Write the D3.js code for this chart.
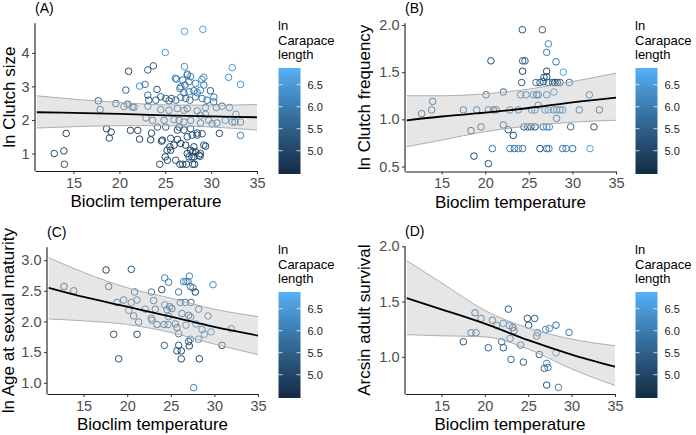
<!DOCTYPE html>
<html>
<head>
<meta charset="utf-8">
<script src="https://cdn.jsdelivr.net/npm/d3@7"></script>
<style>
  body { margin: 0; background: #fff; }
  text { font-family: "Liberation Sans", Arial, sans-serif; }
</style>
</head>
<body>
<svg id="chart" width="696" height="435"></svg>
<script>
// ---- data ----
const xTicks = [15, 20, 25, 30, 35];
const colorTicks = [5.0, 5.5, 6.0, 6.5];
const colorDomain = [4.47, 6.88];   // ln carapace length range of the colour bar
const fitX = [11, 15, 20, 25, 30, 35];

// (A) ln clutch size: [temperature, value, ln carapace]
const clutchSizePts = [
  [12.9,1.00,5.2],[13.95,1.08,5.1],[14.0,0.68,5.3],[14.2,1.60,5.0],
  [17.7,2.57,5.3],[17.9,2.31,5.6],[18.6,1.74,5.1],[18.9,1.46,5.2],[19.1,1.64,5.0],[19.6,2.49,5.5],
  [20.7,2.89,5.6],[21.0,3.45,5.2],[20.9,2.47,5.4],[21.2,1.69,5.1],[21.4,2.39,5.7],[20.5,2.40,5.8],[21.6,2.38,5.5],
  [22.2,3.01,6.2],[22.0,1.69,5.0],[22.2,1.43,5.1],[22.8,3.06,5.9],[23.1,3.49,5.5],
  [23.1,2.74,5.6],[23.2,2.59,5.4],[23.1,2.41,5.8],[22.9,2.06,5.9],[23.5,1.61,5.1],[23.4,1.41,5.0],
  [31.9,3.27,6.4],[32.3,3.56,6.5],[32.0,2.37,5.9],[32.3,1.94,6.0],[32.7,2.17,5.8],[32.6,1.94,5.5],
  [33.2,3.06,6.4],[33.2,1.94,5.7],[33.2,1.54,6.0],[30.9,1.60,5.1],
  [25.0,4.01,6.5],[27.1,4.64,6.6],[29.1,4.70,6.6],[27.1,3.59,6.3],[23.7,3.61,5.4],[26.1,3.24,6.0],
  [26.9,3.19,5.8],[27.4,3.37,6.1],[29.0,3.21,6.2],[29.2,3.27,6.3],[28.3,3.09,6.1],[26.7,2.99,5.9],[24.1,2.91,5.3],
  [30.3,2.68,6.0],[30.1,1.89,5.8],[29.4,1.22,5.0],[28.7,0.95,5.1],[28.8,0.92,5.3],[28.0,1.05,5.0],[27.9,0.90,5.2],
  [24.6,1.37,5.0],[25.0,0.90,5.1],[25.2,1.10,5.0],[25.5,1.20,5.0],
  [24.4,0.68,5.2],[26.6,0.68,5.0],[26.9,0.68,5.1],[27.3,0.68,4.9],[28.0,0.68,5.0],[28.2,0.68,5.1],
  [26.24,3.22,6.2],[27.40,3.34,6.0],[27.76,3.29,6.1],[27.58,3.14,5.9],[29.2,3.04,6.0],[27.14,3.04,5.8],[26.6,2.94,5.7],
  [27.04,2.81,5.8],[27.58,2.84,6.0],[28.12,2.87,5.7],[28.48,2.81,5.9],[28.84,2.89,6.1],[29.92,2.87,5.4],
  [25.67,2.64,5.5],[26.14,2.59,5.6],[26.68,2.67,6.0],[27.22,2.64,5.7],[27.68,2.59,5.8],[28.30,2.69,5.9],[29.02,2.64,6.0],[29.56,2.59,5.6],
  [24.51,2.69,5.4],[25.05,2.64,5.6],[25.41,2.57,5.5],[23.97,2.59,5.3],[30.28,2.54,5.8],[29.38,2.37,5.9],[30.57,2.37,5.7],[31.18,2.41,5.8],
  [24.51,2.31,5.7],[25.41,2.29,5.8],[26.32,2.34,5.6],[27.04,2.29,5.9],[27.40,2.34,5.7],[28.48,2.27,5.6],[28.84,2.14,5.9],[29.38,2.17,6.0],
  [23.61,1.99,5.6],[24.87,1.99,5.5],[25.95,2.01,5.8],[26.50,1.99,5.7],[27.04,1.94,5.9],[27.76,1.99,5.6],[28.84,1.91,5.5],
  [29.74,1.99,5.8],[30.64,1.91,5.6],[31.54,1.99,5.9],
  [24.15,1.79,5.4],[25.05,1.79,5.5],[26.50,1.79,5.3],[27.76,1.74,5.4],[28.48,1.61,5.2],[29.02,1.59,5.3],
  [24.69,1.40,5.1],[25.59,1.45,5.2],[26.32,1.42,5.0],[25.95,1.25,5.1],[26.68,1.30,5.0],[27.22,1.25,4.9],
  [27.40,1.50,5.2],[27.94,1.55,5.1],[27.04,1.70,5.3],[26.32,1.70,5.2],[28.12,1.20,5.0],[28.48,1.55,5.3],
  [27.76,1.10,5.1],[28.30,1.05,5.0],[28.84,1.00,5.2],[28.12,0.90,5.0],[25.59,1.10,5.1],
  [25.23,0.80,5.0],[26.14,0.80,5.1],[29.20,1.25,5.2],[27.4,1.00,5.0],[27.58,0.90,5.1]
];
const clutchSizeFit = [2.23, 2.21, 2.18, 2.14, 2.11, 2.08];
const clutchSizeLo  = [1.76, 1.80, 1.83, 1.83, 1.79, 1.70];
const clutchSizeHi  = [2.72, 2.62, 2.52, 2.45, 2.44, 2.46];

// (B) ln clutch frequency
const clutchFreqPts = [
  [24.26,1.95,5.3],[26.55,1.95,5.4],[27.24,1.80,6.2],[27.05,1.71,6.0],[20.66,1.62,5.2],[24.29,1.62,5.6],[24.56,1.62,5.4],[28.12,1.61,5.9],
  [24.29,1.51,4.9],[27.05,1.51,5.0],[28.96,1.50,6.6],[24.18,1.39,5.5],[25.82,1.39,5.8],[26.28,1.39,5.6],[26.74,1.445,5.2],[27.05,1.45,5.0],
  [27.24,1.39,5.7],[27.73,1.39,5.1],[28.0,1.39,5.0],[28.27,1.39,5.2],[28.58,1.39,5.4],[29.65,1.39,5.6],[26.66,1.40,5.3],
  [22.08,1.29,5.5],[20.09,1.26,5.7],[24.07,1.26,5.9],[24.68,1.26,5.8],[25.52,1.26,6.0],[25.9,1.26,5.7],[26.09,1.26,5.9],
  [27.05,1.26,5.8],[27.89,1.29,6.3],[31.94,1.26,5.8],
  [13.97,1.19,5.4],[12.71,1.06,5.3],[13.86,1.10,5.6],[17.49,1.10,5.5],[19.02,1.10,5.6],[20.36,1.10,5.8],[20.93,1.10,5.7],
  [21.24,1.10,5.5],[22.84,1.10,5.9],[23.8,1.10,5.8],[25.33,1.10,6.0],[25.71,1.10,5.9],[26.86,1.10,6.1],[27.24,1.10,6.3],
  [27.81,1.10,5.8],[28.19,1.10,5.9],[28.58,1.10,6.0],[28.88,1.10,6.2],[30.79,1.10,5.7],[33.09,1.10,5.5],[26.09,1.15,5.8],[28.19,1.01,5.6],
  [18.37,0.88,5.3],[19.52,0.92,5.6],[22.08,0.94,5.4],[22.65,0.89,5.3],[23.22,0.83,5.0],[24.45,0.92,5.4],[24.87,0.92,5.6],
  [25.25,0.92,5.3],[25.71,0.92,5.1],[26.66,0.92,5.8],[27.05,0.92,6.3],[27.35,0.92,6.1],[29.8,0.92,5.7],[32.47,0.92,5.2],
  [20.82,0.69,5.9],[22.84,0.69,6.0],[23.34,0.69,5.8],[23.80,0.69,6.1],[24.29,0.69,5.9],[26.28,0.69,5.2],[27.05,0.69,5.6],
  [27.31,0.69,6.0],[28.88,0.69,5.9],[29.27,0.69,6.2],[30.03,0.69,5.6],[32.02,0.69,6.6],
  [18.71,0.61,5.0],[20.36,0.53,5.2]
];
const clutchFreqFit = [0.99, 1.03, 1.07, 1.12, 1.18, 1.23];
const clutchFreqLo  = [0.71, 0.78, 0.87, 0.93, 0.97, 0.99];
const clutchFreqHi  = [1.25, 1.25, 1.27, 1.32, 1.40, 1.49];

// (C) ln age at sexual maturity
const maturityPts = [
  [12.75,2.57,5.3],[13.86,2.50,5.5],[17.57,2.84,5.0],[17.87,2.57,5.4],[19.02,1.39,5.1],[18.45,1.79,5.2],[18.83,2.31,5.5],
  [19.59,2.35,5.6],[20.47,2.85,5.3],[20.47,2.31,5.8],[20.17,2.18,5.9],[20.85,2.48,5.6],[21.12,2.35,5.8],[20.74,2.09,5.7],
  [21.31,1.99,5.6],[21.12,1.79,5.2],[22.08,2.20,5.9],[22.77,2.48,5.9],[23.03,2.34,5.7],[23.22,2.20,5.5],[22.84,2.02,5.9],
  [23.42,1.95,5.4],[22.77,2.05,5.8],[23.96,2.52,5.1],[24.30,2.71,6.1],[24.75,2.64,6.0],[24.30,2.27,5.9],[24.56,2.19,5.6],
  [24.87,2.24,5.5],[25.13,2.21,5.2],[24.75,2.08,5.7],[24.22,1.95,5.6],[24.68,1.95,5.8],[24.26,1.61,5.7],[25.52,1.96,5.5],
  [25.71,1.90,5.4],[25.90,2.48,6.0],[25.90,1.80,5.9],[26.09,2.31,5.7],[26.47,2.65,5.9],[26.74,2.65,6.2],[26.97,2.65,6.0],
  [26.66,2.31,5.8],[25.90,1.61,5.3],[25.71,1.52,5.2],[26.2,1.52,5.1],[26.2,1.39,5.0],[26.28,2.13,5.6],[26.74,1.94,6.0],
  [27.12,2.74,6.1],[27.24,2.57,6.0],[27.54,2.55,5.9],[27.81,2.48,4.9],[27.31,2.31,5.7],[27.05,2.10,5.5],[27.28,2.07,5.8],
  [27.05,1.67,5.4],[27.24,1.71,5.9],[27.12,1.60,5.0],[27.62,0.92,6.0],[28.19,2.20,5.8],[28.27,1.39,5.0],[28.19,1.71,6.1],
  [28.58,1.87,5.8],[28.84,1.79,6.2],[29.27,2.09,6.0],[29.61,1.83,6.1],[29.84,2.60,6.3],[30.87,1.61,5.2],[31.94,1.88,6.0],
  [27.89,1.96,5.9]
];
const maturityFit = [2.55, 2.40, 2.24, 2.08, 1.91, 1.77];
const maturityLo  = [2.04, 2.01, 1.95, 1.82, 1.63, 1.46];
const maturityHi  = [3.04, 2.80, 2.55, 2.38, 2.20, 2.08];

// (D) arcsin adult survival
const survivalPts = [
  [17.52,1.136,5.3],[18.41,1.217,5.4],[18.98,1.217,5.5],[18.87,1.398,5.3],[19.56,1.347,5.6],[20.87,1.331,5.6],[20.40,1.082,5.5],
  [21.36,1.283,5.7],[22.13,1.301,5.9],[21.94,1.136,5.7],[22.13,1.082,5.4],[22.71,1.431,5.5],[22.82,1.283,5.8],[23.02,0.976,5.6],
  [23.21,1.265,5.2],[23.36,1.235,5.4],[22.9,1.165,6.0],[24.13,1.106,5.8],[24.44,0.952,5.5],[24.9,1.347,5.3],[25.05,1.286,5.2],
  [25.74,1.347,5.4],[25.97,1.187,5.9],[26.09,1.217,6.0],[26.28,1.021,5.3],[27.01,1.247,6.2],[27.43,1.256,6.3],[28.2,1.286,5.8],
  [28.2,1.036,6.3],[27.13,0.940,6.1],[27.28,0.904,6.0],[26.86,0.895,5.7],[27.13,0.744,5.2],[28.48,0.723,6.0],[29.7,1.22,5.9]
];
const survivalFit = [1.53, 1.43, 1.30, 1.15, 1.02, 0.91];
const survivalLo  = [1.20, 1.19, 1.18, 1.07, 0.89, 0.74];
const survivalHi  = [1.87, 1.67, 1.42, 1.26, 1.16, 1.10];

// ---- drawing ----
const svg = d3.select('#chart');
svg.append('rect').attr('width', 696).attr('height', 435).attr('fill', '#fff');

const color = d3.scaleLinear().domain(colorDomain).range(['#132B43', '#56B1F7']).interpolate(d3.interpolateLab);

const panels = [
  { tag: '(A)', ylab: 'ln Clutch size', pts: clutchSizePts, fit: clutchSizeFit, lo: clutchSizeLo, hi: clutchSizeHi,
    left: 35, right: 257, top: 23.3, bottom: 171, yDomain: [0.48, 4.88], yTicks: [1, 2, 3, 4], fmt: d3.format('d'),
    ylabX: 15, barX: 278.5, barTop: 68, barBottom: 174 },
  { tag: '(B)', ylab: 'ln Clutch frequency', pts: clutchFreqPts, fit: clutchFreqFit, lo: clutchFreqLo, hi: clutchFreqHi,
    left: 405, right: 616, top: 23.3, bottom: 171.5, yDomain: [0.447, 2.018], yTicks: [0.5, 1.0, 1.5, 2.0], fmt: d3.format('.1f'),
    ylabX: 370, barX: 635.5, barTop: 68, barBottom: 174 },
  { tag: '(C)', ylab: 'ln Age at sexual maturity', pts: maturityPts, fit: maturityFit, lo: maturityLo, hi: maturityHi,
    left: 47, right: 258, top: 247.3, bottom: 394, yDomain: [0.816, 3.21], yTicks: [1.0, 1.5, 2.0, 2.5, 3.0], fmt: d3.format('.1f'),
    ylabX: 13.5, barX: 278.5, barTop: 292, barBottom: 398 },
  { tag: '(D)', ylab: 'Arcsin adult survival', pts: survivalPts, fit: survivalFit, lo: survivalLo, hi: survivalHi,
    left: 405, right: 615, top: 246.3, bottom: 394, yDomain: [0.663, 2.0], yTicks: [1.0, 1.5, 2.0], fmt: d3.format('.1f'),
    ylabX: 370, barX: 635.5, barTop: 292, barBottom: 398 }
];

const defs = svg.append('defs');

panels.forEach(function(p, i) {
  const x = d3.scaleLinear().domain([10.8, 35]).range([p.left, p.right]);
  const y = d3.scaleLinear().domain(p.yDomain).range([p.bottom, p.top]);
  const g = svg.append('g');

  // points
  g.append('g').selectAll('circle')
    .data(p.pts)
    .enter()
    .append('circle')
    .attr('cx', d => x(d[0]))
    .attr('cy', d => y(d[1]))
    .attr('r', 3.3)
    .attr('fill', 'none')
    .attr('stroke', d => color(d[2]))
    .attr('stroke-width', 1);

  // confidence ribbon drawn over the points
  const band = fitX.map((v, k) => ({ x: v, lo: p.lo[k], hi: p.hi[k], fit: p.fit[k] }));
  g.append('path')
    .datum(band)
    .attr('d', d3.area().curve(d3.curveMonotoneX).x(d => x(d.x)).y0(d => y(d.lo)).y1(d => y(d.hi)))
    .attr('fill', '#c4c4c4')
    .attr('fill-opacity', 0.42);
  ['lo', 'hi'].forEach(function(key) {
    g.append('path')
      .datum(band)
      .attr('d', d3.line().curve(d3.curveMonotoneX).x(d => x(d.x)).y(d => y(d[key])))
      .attr('fill', 'none')
      .attr('stroke', '#a6a6a6')
      .attr('stroke-width', 0.9);
  });
  g.append('path')
    .datum(band)
    .attr('d', d3.line().curve(d3.curveMonotoneX).x(d => x(d.x)).y(d => y(d.fit)))
    .attr('fill', 'none')
    .attr('stroke', '#000')
    .attr('stroke-width', 1.8);

  // axes
  const xAxis = g.append('g')
    .attr('transform', `translate(0,${p.bottom})`)
    .call(d3.axisBottom(x).tickValues(xTicks).tickSize(3).tickPadding(3.5).tickSizeOuter(0));
  const yAxis = g.append('g')
    .attr('transform', `translate(${p.left},0)`)
    .call(d3.axisLeft(y).tickValues(p.yTicks).tickFormat(p.fmt).tickSize(3).tickPadding(2.5).tickSizeOuter(0));
  [xAxis, yAxis].forEach(function(a) {
    a.select('.domain').attr('stroke', '#1a1a1a').attr('stroke-width', 1.1);
    a.selectAll('.tick line').attr('stroke', '#333').attr('stroke-width', 1);
    a.selectAll('.tick text').attr('fill', '#4d4d4d').style('font-size', '14.5px')
      .style('font-family', '"Liberation Sans", Arial, sans-serif');
  });
  // the y axis line spans the full panel height
  yAxis.select('.domain').attr('d', `M0,${p.top}V${p.bottom}`);

  // titles
  g.append('text')
    .attr('x', p.left)
    .attr('y', p.top - 10.5)
    .style('font-size', '14px')
    .attr('fill', '#000')
    .text(p.tag);
  g.append('text')
    .attr('x', (p.left + p.right) / 2)
    .attr('y', p.bottom + 36)
    .attr('text-anchor', 'middle')
    .style('font-size', '17px')
    .attr('fill', '#000')
    .text('Bioclim temperature');
  g.append('text')
    .attr('transform', `translate(${p.ylabX},${(p.top + p.bottom) / 2}) rotate(-90)`)
    .attr('text-anchor', 'middle')
    .style('font-size', '17px')
    .attr('fill', '#000')
    .text(p.ylab);

  // colour bar legend
  const barW = 22;
  const cb = d3.scaleLinear().domain(colorDomain).range([p.barBottom, p.barTop]);
  const grad = defs.append('linearGradient')
    .attr('id', 'grad' + i)
    .attr('x1', 0).attr('y1', 1).attr('x2', 0).attr('y2', 0);
  d3.range(0, 1.0001, 0.1).forEach(function(t) {
    grad.append('stop')
      .attr('offset', t)
      .attr('stop-color', color(colorDomain[0] + t * (colorDomain[1] - colorDomain[0])));
  });
  g.append('rect')
    .attr('x', p.barX).attr('y', p.barTop)
    .attr('width', barW).attr('height', p.barBottom - p.barTop)
    .attr('fill', `url(#grad${i})`);
  colorTicks.forEach(function(v) {
    [p.barX, p.barX + barW - 4].forEach(function(sx) {
      g.append('line')
        .attr('x1', sx).attr('x2', sx + 4)
        .attr('y1', cb(v)).attr('y2', cb(v))
        .attr('stroke', '#fff').attr('stroke-opacity', 0.75).attr('stroke-width', 1);
    });
    g.append('text')
      .attr('x', p.barX + barW + 7)
      .attr('y', cb(v))
      .attr('dy', '0.36em')
      .style('font-size', '11px')
      .attr('fill', '#1a1a1a')
      .text(d3.format('.1f')(v));
  });
  ['ln', 'Carapace', 'length'].forEach(function(s, k) {
    g.append('text')
      .attr('x', p.barX - 0.5)
      .attr('y', p.barTop - 38 + k * 14.5)
      .style('font-size', '13px')
      .attr('fill', '#000')
      .text(s);
  });
});
</script>
</body>
</html>
